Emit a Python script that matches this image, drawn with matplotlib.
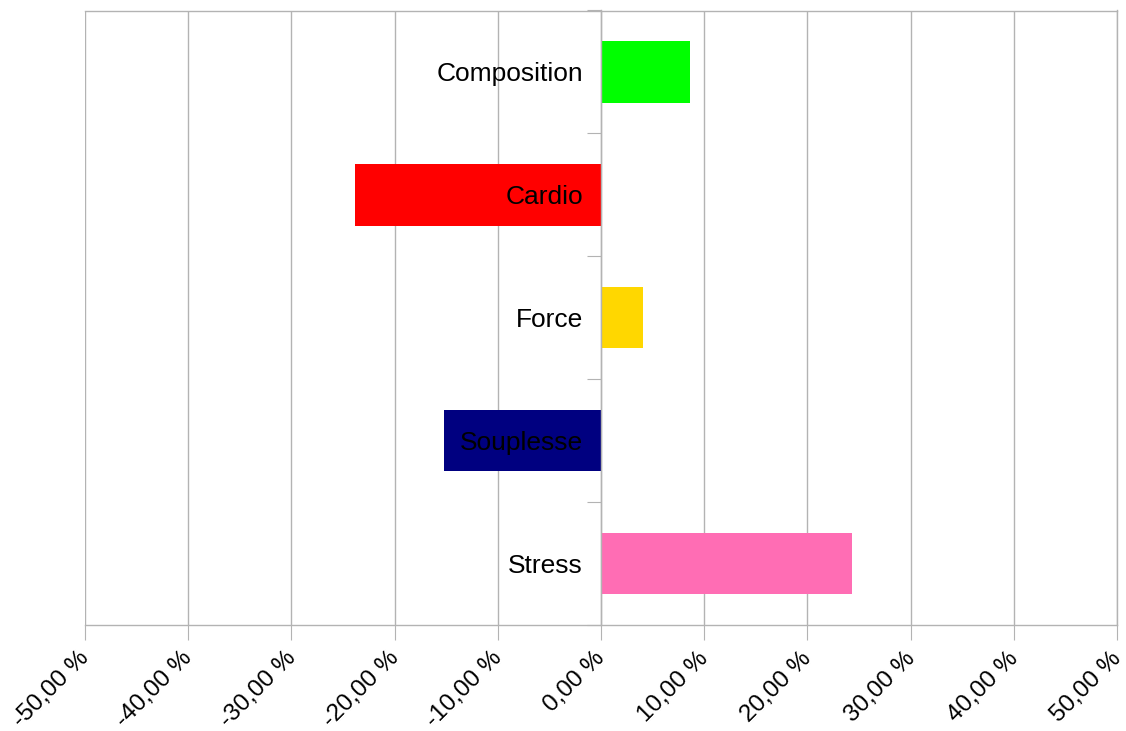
import numpy as np
import matplotlib.pyplot as plt
from matplotlib.ticker import FuncFormatter, FixedLocator
from matplotlib.transforms import offset_copy, ScaledTranslation

plt.rcParams['font.family'] = ['Liberation Sans', 'DejaVu Sans']

categories = ["Composition", "Cardio", "Force", "Souplesse", "Stress"]
values = [8.6, -23.8, 4.1, -15.2, 24.3]
colors = ["#00ff00", "#ff0000", "#ffd700", "#000080", "#ff6db4"]
ticks = list(range(-50, 51, 10))

fig = plt.figure(figsize=(11.26, 7.31), dpi=100)
ax = fig.add_axes([85/1126, 1 - 625/731, (1117 - 85)/1126, (625 - 10.5)/731])

pos = np.arange(len(categories))
ax.barh(pos, values, height=0.5, color=colors, zorder=2)

ax.set_xlim(-50, 50)
ax.set_ylim(len(categories) - 0.5, -0.5)

grid_col = "#b3b3b3"
ax.set_xticks(ticks)
ax.xaxis.set_major_formatter(FuncFormatter(lambda v, p: f"{v:.2f}".replace(".", ",") + " %"))
ax.grid(axis="x", color=grid_col, linewidth=1, zorder=0)
ax.tick_params(axis="x", length=11, color=grid_col, labelsize=17.5, pad=5)
shift = ScaledTranslation(-7/100, 0, fig.dpi_scale_trans)
for lab in ax.get_xticklabels():
    lab.set_rotation(45)
    lab.set_ha("right")
    lab.set_va("top")
    lab.set_rotation_mode("anchor")
    lab.set_transform(lab.get_transform() + shift)

# y axis at zero, ticks at the category boundaries
ax.spines["left"].set_position(("data", 0))
ax.yaxis.set_major_locator(FixedLocator(np.arange(-0.5, len(categories), 1)))
ax.yaxis.set_major_formatter(FuncFormatter(lambda v, p: ""))
ax.tick_params(axis="y", which="major", length=10, color=grid_col)

# category names sit on top of the bars, right-aligned left of the axis
trans = offset_copy(ax.transData, fig=fig, x=-18, y=-2, units="dots")
for i, name in enumerate(categories):
    ax.text(0, pos[i], name, transform=trans, ha="right", va="center",
            fontsize=19, zorder=5)

for s in ["left", "right", "top", "bottom"]:
    ax.spines[s].set_color(grid_col)
    ax.spines[s].set_linewidth(1)
ax.spines["left"].set_zorder(3)

fig.savefig("out.png", dpi=100)
